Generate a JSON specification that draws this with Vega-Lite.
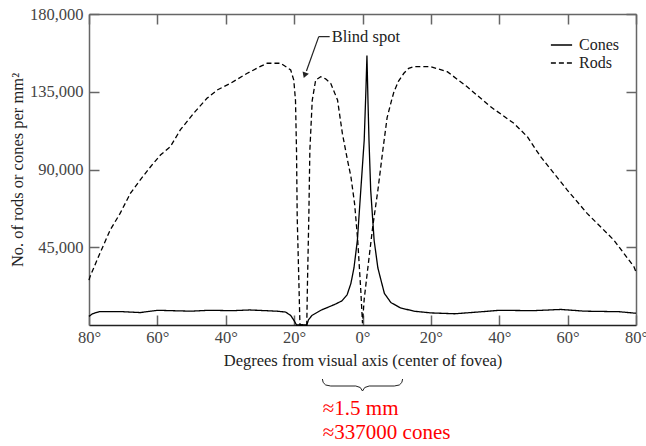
{
  "$schema": "https://vega.github.io/schema/vega-lite/v6.json",
  "width": 547,
  "height": 311,
  "autosize": {"type": "none"},
  "padding": {"left": 89, "top": 14, "right": 10, "bottom": 121},
  "background": "white",
  "config": {
    "view": {"stroke": null},
    "font": "Liberation Serif",
    "axis": {"grid": false, "labelFont": "Liberation Serif", "titleFont": "Liberation Serif", "labelFontSize": 16.5, "titleFontSize": 16.5, "titleFontWeight": "normal", "labelColor": "#444", "titleColor": "#222", "domainColor": "#666", "domainWidth": 1.5, "tickColor": "#666", "tickWidth": 1.5}
  },
  "datasets": {
    "curves": [
      {"series": "Rods", "deg": -80, "val": 26000},
      {"series": "Rods", "deg": -79.7, "val": 28000},
      {"series": "Rods", "deg": -76.8, "val": 41500},
      {"series": "Rods", "deg": -73.8, "val": 55000},
      {"series": "Rods", "deg": -70.9, "val": 64600},
      {"series": "Rods", "deg": -67.9, "val": 76200},
      {"series": "Rods", "deg": -65, "val": 84000},
      {"series": "Rods", "deg": -62, "val": 91600},
      {"series": "Rods", "deg": -59.1, "val": 98400},
      {"series": "Rods", "deg": -56.2, "val": 103200},
      {"series": "Rods", "deg": -53.3, "val": 112900},
      {"series": "Rods", "deg": -49.4, "val": 122500},
      {"series": "Rods", "deg": -45.5, "val": 131200},
      {"series": "Rods", "deg": -42.5, "val": 136000},
      {"series": "Rods", "deg": -38.6, "val": 139900},
      {"series": "Rods", "deg": -33.7, "val": 145700},
      {"series": "Rods", "deg": -30, "val": 149500},
      {"series": "Rods", "deg": -27.9, "val": 151500},
      {"series": "Rods", "deg": -24, "val": 151500},
      {"series": "Rods", "deg": -22, "val": 149000},
      {"series": "Rods", "deg": -21, "val": 147600},
      {"series": "Rods", "deg": -20.1, "val": 141800},
      {"series": "Rods", "deg": -19.6, "val": 130000},
      {"series": "Rods", "deg": -19.3, "val": 101000},
      {"series": "Rods", "deg": -19.1, "val": 62700},
      {"series": "Rods", "deg": -18.6, "val": 24000},
      {"series": "Rods", "deg": -18.3, "val": 0},
      {"series": "Rods", "deg": -16.3, "val": 0},
      {"series": "Rods", "deg": -16.1, "val": 24000},
      {"series": "Rods", "deg": -15.7, "val": 62700},
      {"series": "Rods", "deg": -15.4, "val": 101000},
      {"series": "Rods", "deg": -14.7, "val": 130000},
      {"series": "Rods", "deg": -13.7, "val": 141800},
      {"series": "Rods", "deg": -12.2, "val": 143700},
      {"series": "Rods", "deg": -10.8, "val": 142500},
      {"series": "Rods", "deg": -9.3, "val": 139900},
      {"series": "Rods", "deg": -7.3, "val": 130200},
      {"series": "Rods", "deg": -5.9, "val": 111000},
      {"series": "Rods", "deg": -4.4, "val": 95500},
      {"series": "Rods", "deg": -3.4, "val": 86000},
      {"series": "Rods", "deg": -2.3, "val": 70000},
      {"series": "Rods", "deg": -1.4, "val": 49000},
      {"series": "Rods", "deg": -0.5, "val": 20000},
      {"series": "Rods", "deg": 0, "val": 1000},
      {"series": "Rods", "deg": 0.5, "val": 15000},
      {"series": "Rods", "deg": 1.5, "val": 32000},
      {"series": "Rods", "deg": 3, "val": 57000},
      {"series": "Rods", "deg": 4.5, "val": 78000},
      {"series": "Rods", "deg": 6, "val": 102000},
      {"series": "Rods", "deg": 7.2, "val": 120000},
      {"series": "Rods", "deg": 8.5, "val": 130000},
      {"series": "Rods", "deg": 9.2, "val": 135000},
      {"series": "Rods", "deg": 10.5, "val": 141000},
      {"series": "Rods", "deg": 12.1, "val": 145700},
      {"series": "Rods", "deg": 13.5, "val": 148500},
      {"series": "Rods", "deg": 15, "val": 149500},
      {"series": "Rods", "deg": 19.9, "val": 149500},
      {"series": "Rods", "deg": 24.8, "val": 146600},
      {"series": "Rods", "deg": 30.6, "val": 137900},
      {"series": "Rods", "deg": 37.4, "val": 126400},
      {"series": "Rods", "deg": 44.3, "val": 116700},
      {"series": "Rods", "deg": 48.2, "val": 109000},
      {"series": "Rods", "deg": 52.1, "val": 97400},
      {"series": "Rods", "deg": 59.9, "val": 78100},
      {"series": "Rods", "deg": 65.7, "val": 64600},
      {"series": "Rods", "deg": 73.5, "val": 49200},
      {"series": "Rods", "deg": 79.4, "val": 33700},
      {"series": "Rods", "deg": 80, "val": 30700},
      {"series": "Cones", "deg": -80, "val": 5000},
      {"series": "Cones", "deg": -79, "val": 6500},
      {"series": "Cones", "deg": -77, "val": 7700},
      {"series": "Cones", "deg": -70, "val": 7700},
      {"series": "Cones", "deg": -65, "val": 7200},
      {"series": "Cones", "deg": -60, "val": 8500},
      {"series": "Cones", "deg": -50, "val": 8000},
      {"series": "Cones", "deg": -45, "val": 8500},
      {"series": "Cones", "deg": -38, "val": 8300},
      {"series": "Cones", "deg": -33, "val": 8700},
      {"series": "Cones", "deg": -25, "val": 8000},
      {"series": "Cones", "deg": -22.5, "val": 7500},
      {"series": "Cones", "deg": -21, "val": 5500},
      {"series": "Cones", "deg": -20, "val": 2500},
      {"series": "Cones", "deg": -19.3, "val": 0},
      {"series": "Cones", "deg": -16.3, "val": 0},
      {"series": "Cones", "deg": -15.8, "val": 3000},
      {"series": "Cones", "deg": -14.8, "val": 5500},
      {"series": "Cones", "deg": -12, "val": 8700},
      {"series": "Cones", "deg": -8, "val": 12000},
      {"series": "Cones", "deg": -6, "val": 14000},
      {"series": "Cones", "deg": -4.5, "val": 17500},
      {"series": "Cones", "deg": -3.4, "val": 24000},
      {"series": "Cones", "deg": -2.5, "val": 33000},
      {"series": "Cones", "deg": -1.5, "val": 49000},
      {"series": "Cones", "deg": -0.5, "val": 78000},
      {"series": "Cones", "deg": 0.5, "val": 107000},
      {"series": "Cones", "deg": 1.0, "val": 136000},
      {"series": "Cones", "deg": 1.3, "val": 156000},
      {"series": "Cones", "deg": 1.6, "val": 130000},
      {"series": "Cones", "deg": 1.9, "val": 107000},
      {"series": "Cones", "deg": 2.4, "val": 78000},
      {"series": "Cones", "deg": 3.4, "val": 49000},
      {"series": "Cones", "deg": 4.5, "val": 33000},
      {"series": "Cones", "deg": 5.4, "val": 26000},
      {"series": "Cones", "deg": 6.4, "val": 18300},
      {"series": "Cones", "deg": 8.3, "val": 13000},
      {"series": "Cones", "deg": 11, "val": 10000},
      {"series": "Cones", "deg": 15, "val": 8000},
      {"series": "Cones", "deg": 20, "val": 7000},
      {"series": "Cones", "deg": 27, "val": 6500},
      {"series": "Cones", "deg": 35, "val": 7700},
      {"series": "Cones", "deg": 40, "val": 8500},
      {"series": "Cones", "deg": 50, "val": 8300},
      {"series": "Cones", "deg": 58, "val": 9000},
      {"series": "Cones", "deg": 65, "val": 8000},
      {"series": "Cones", "deg": 75, "val": 7700},
      {"series": "Cones", "deg": 80, "val": 6800}
    ],
    "brace": [
      {"i": 1, "deg": -11.73, "val": -31255},
      {"i": 2, "deg": -11.5, "val": -33281},
      {"i": 3, "deg": -10.76, "val": -34728},
      {"i": 4, "deg": -9.29, "val": -35307},
      {"i": 5, "deg": -1.96, "val": -35307},
      {"i": 6, "deg": -0.65, "val": -36175},
      {"i": 7, "deg": 0, "val": -38201},
      {"i": 8, "deg": 0.65, "val": -36175},
      {"i": 9, "deg": 1.96, "val": -35307},
      {"i": 10, "deg": 9.29, "val": -35307},
      {"i": 11, "deg": 10.76, "val": -34728},
      {"i": 12, "deg": 11.5, "val": -33281},
      {"i": 13, "deg": 11.73, "val": -31255}
    ]
  },
  "resolve": {"axis": {"x": "independent", "y": "independent"}},
  "layer": [
    {
      "data": {"name": "curves"},
      "mark": {"type": "line", "color": "black", "strokeWidth": 1.3},
      "encoding": {
        "x": {"field": "deg", "type": "quantitative", "scale": {"domain": [-80, 80], "nice": false, "zero": false},
          "axis": {"orient": "bottom", "values": [-80, -60, -40, -20, 0, 20, 40, 60, 80], "labelExpr": "abs(datum.value) + '°'", "tickSize": -10, "labelPadding": 14, "labelFont": "Liberation Serif", "titleFont": "Liberation Serif", "title": "Degrees from visual axis (center of fovea)", "titlePadding": 7, "domainColor": "#222", "labelFlush": false}},
        "y": {"field": "val", "type": "quantitative", "scale": {"domain": [0, 180000], "nice": false},
          "axis": {"orient": "left", "values": [45000, 90000, 135000, 180000], "format": ",.0f", "tickSize": -10, "labelPadding": 16, "labelFont": "Liberation Serif", "titleFont": "Liberation Serif", "title": "No. of rods or cones per mm²", "titlePadding": 4, "labelFlush": false}},
        "strokeDash": {"field": "series", "type": "nominal", "scale": {"domain": ["Cones", "Rods"], "range": [[1, 0], [5, 3]]},
          "legend": {"title": null, "orient": "none", "legendX": 464.5, "legendY": 23, "symbolType": "M-1.5,0H1.5", "symbolSize": 200, "symbolStrokeColor": "black", "symbolStrokeWidth": 1.3, "labelFont": "Liberation Serif", "labelFontSize": 16, "labelColor": "#222", "labelOffset": 9.5, "rowPadding": 2, "padding": 0}},
        "detail": {"field": "series"}
      }
    },
    {
      "data": {"values": [{"deg": -9.6, "val": 166700, "label": "Blind spot"}]},
      "mark": {"type": "text", "align": "left", "baseline": "middle", "font": "Liberation Serif", "fontSize": 16.5, "color": "#222", "dx": 2},
      "encoding": {
        "x": {"field": "deg", "type": "quantitative", "axis": {"orient": "top", "values": [-80, -60, -40, -20, 0, 20, 40, 60, 80], "labels": false, "tickSize": -10, "title": null}},
        "y": {"field": "val", "type": "quantitative", "axis": {"orient": "right", "values": [45000, 90000, 135000, 180000], "labels": false, "tickSize": -10, "title": null}},
        "text": {"field": "label"}
      }
    },
    {
      "data": {"values": [
        {"deg": -12.8, "val": 166900, "deg2": -9.6, "val2": 166900},
        {"deg": -12.8, "val": 166900, "deg2": -16.4, "val2": 147000}
      ]},
      "mark": {"type": "rule", "color": "#222", "strokeWidth": 1.2},
      "encoding": {
        "x": {"field": "deg", "type": "quantitative", "axis": null},
        "y": {"field": "val", "type": "quantitative", "axis": null},
        "x2": {"field": "deg2"},
        "y2": {"field": "val2"}
      }
    },
    {
      "data": {"values": [{"deg": -16.8, "val": 145000}]},
      "mark": {"type": "point", "shape": "triangle", "filled": true, "color": "#222", "size": 45, "angle": 200, "opacity": 1},
      "encoding": {
        "x": {"field": "deg", "type": "quantitative", "axis": null},
        "y": {"field": "val", "type": "quantitative", "axis": null}
      }
    },
    {
      "data": {"name": "brace"},
      "mark": {"type": "line", "color": "#222", "strokeWidth": 1},
      "encoding": {
        "x": {"field": "deg", "type": "quantitative", "axis": null},
        "y": {"field": "val", "type": "quantitative", "axis": null},
        "order": {"field": "i", "type": "quantitative"}
      }
    },
    {
      "data": {"values": [
        {"deg": -11.6, "val": -52090, "label": "≈1.5 mm"},
        {"deg": -11.6, "val": -66160, "label": "≈337000 cones"}
      ]},
      "mark": {"type": "text", "align": "left", "baseline": "alphabetic", "font": "Liberation Serif", "fontSize": 21, "color": "#ff0000"},
      "encoding": {
        "x": {"field": "deg", "type": "quantitative", "axis": null},
        "y": {"field": "val", "type": "quantitative", "axis": null},
        "text": {"field": "label"}
      }
    }
  ]
}
